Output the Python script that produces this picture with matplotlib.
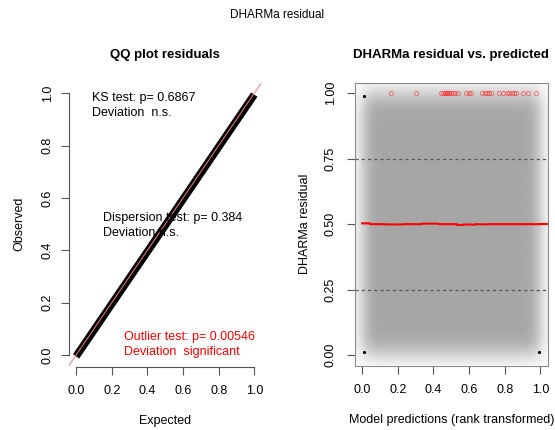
import math
import numpy as np
import matplotlib
matplotlib.use("Agg")
import matplotlib.pyplot as plt

plt.rcParams['font.family'] = ['Liberation Sans', 'DejaVu Sans']

# QQ plot (expected vs observed) - dense band of points along the diagonal
qq_expected = [0.0, 0.25, 0.5, 0.75, 1.0]
qq_observed = [-0.005, 0.245, 0.495, 0.745, 0.995]

ks_text = ["KS test: p= 0.6867", "Deviation  n.s."]
disp_text = ["Dispersion test: p= 0.384", "Deviation n.s."]
out_text = ["Outlier test: p= 0.00546", "Deviation  significant"]

# residual vs predicted: outliers at residual = 1
outlier_x = [0.16, 0.30, 0.445, 0.455, 0.465, 0.47, 0.475, 0.48, 0.49, 0.50, 0.51,
             0.52, 0.54, 0.585, 0.60, 0.61, 0.675, 0.69, 0.70, 0.71, 0.72, 0.77,
             0.79, 0.81, 0.825, 0.84, 0.85, 0.865, 0.90, 0.93, 0.975]
outlier_y = [1.0] * len(outlier_x)
corner_x = [0.01, 0.01, 0.99]
corner_y = [0.99, 0.01, 0.01]

# median quantile regression line
q50_x = [0.0, 0.044, 0.045, 0.128, 0.13, 0.23, 0.232, 0.334, 0.335, 0.427, 0.43,
         0.53, 0.532, 0.567, 0.57, 0.632, 0.635, 0.698, 0.70, 1.0]
q50_y = [0.503, 0.503, 0.500, 0.500, 0.499, 0.499, 0.500, 0.500, 0.502, 0.502, 0.500,
         0.500, 0.497, 0.497, 0.499, 0.498, 0.500, 0.499, 0.500, 0.500]

fig = plt.figure(figsize=(5.55, 4.30), dpi=100)
ax1 = fig.add_axes([0.1243, 0.150, 0.3467, 0.6574])
ax2 = fig.add_axes([0.6396, 0.150, 0.3470, 0.6574])

axcol = '#555555'
fs = 9

# ---- left: QQ plot
ax1.set_xlim(-0.04, 1.04)
ax1.set_ylim(-0.04, 1.04)
ax1.plot(qq_expected, qq_observed, color='black', lw=5.5, solid_capstyle='butt', zorder=2)
ax1.plot([-0.04, 1.04], [-0.04, 1.04], color='#f08080', lw=0.7, zorder=3)
for s in ['top', 'right']:
    ax1.spines[s].set_visible(False)
ax1.spines['left'].set_bounds(0, 1)
ax1.spines['bottom'].set_bounds(0, 1)
ax1.spines['bottom'].set_position(('outward', 1))
for s in ['left', 'bottom']:
    ax1.spines[s].set_color(axcol)
ticks = [0.0, 0.2, 0.4, 0.6, 0.8, 1.0]
ax1.set_xticks(ticks)
ax1.set_yticks(ticks)
ax1.set_xticklabels(['%.1f' % t for t in ticks])
ax1.set_yticklabels(['%.1f' % t for t in ticks], rotation=90, va='center')
ax1.tick_params(length=6, color=axcol, labelsize=fs, pad=7)
ax1.tick_params(axis='y', pad=5)
ax1.set_xlabel('Expected', fontsize=fs, labelpad=13)
ax1.set_ylabel('Observed', fontsize=fs, labelpad=12)
ax1.set_title('QQ plot residuals', fontsize=9.5, fontweight='bold', pad=18)

ax1.text(0.09, 0.982, ks_text[0], fontsize=fs, va='center')
ax1.text(0.09, 0.923, ks_text[1], fontsize=fs, va='center')
ax1.text(0.151, 0.525, disp_text[0], fontsize=fs, va='center')
ax1.text(0.151, 0.467, disp_text[1], fontsize=fs, va='center')
ax1.text(0.269, 0.070, out_text[0], fontsize=fs, va='center', color='red')
ax1.text(0.269, 0.011, out_text[1], fontsize=fs, va='center', color='red')

# ---- right: residual vs predicted
ax2.set_xlim(-0.04, 1.04)
ax2.set_ylim(-0.04, 1.04)
gx = np.linspace(-0.04, 1.04, 300)
erf = np.vectorize(math.erf)
fx = 0.5 * (erf(gx / 0.06) - erf((gx - 1) / 0.06))
fy = 0.5 * (erf(gx / 0.06) - erf((gx - 1) / 0.06))
X, Y = np.meshgrid(fx, fy)
dens = X * Y
ax2.imshow(1 - 0.35 * dens, cmap='gray', vmin=0, vmax=1, extent=(-0.04, 1.04, -0.04, 1.04),
           aspect='auto', origin='lower', zorder=0, interpolation='bilinear')
ax2.axhline(0.25, color='#555555', lw=0.9, ls=(0, (2.5, 2.5)), zorder=2)
ax2.axhline(0.75, color='#555555', lw=0.9, ls=(0, (2.5, 2.5)), zorder=2)
ax2.plot(q50_x, q50_y, color='red', lw=1.5, zorder=3)
ax2.plot([1.0, 1.04], [0.5, 0.5], color='red', lw=1.5, zorder=3)
ax2.plot(outlier_x, outlier_y, ls='none', marker='o', ms=3.0, mfc='none',
         mec=(1, 0.15, 0.15, 0.55), mew=0.7, zorder=4)
ax2.plot(corner_x, corner_y, ls='none', marker='.', ms=2.5, color='black', zorder=4)
for s in ax2.spines.values():
    s.set_color('#888888')
ax2.set_xticks(ticks)
ax2.set_xticklabels(['%.1f' % t for t in ticks])
yt = [0.0, 0.25, 0.5, 0.75, 1.0]
ax2.set_yticks(yt)
ax2.set_yticklabels(['%.2f' % t for t in yt], rotation=90, va='center')
ax2.tick_params(length=6, color=axcol, labelsize=fs, pad=7)
ax2.tick_params(axis='y', pad=7)
ax2.set_xlabel('Model predictions (rank transformed)', fontsize=fs, labelpad=13)
ax2.set_ylabel('DHARMa residual', fontsize=fs, labelpad=10)
ax2.set_title('DHARMa residual vs. predicted', fontsize=9.5, fontweight='bold', pad=18)

fig.text(0.5, 1 - 15 / 430, 'DHARMa residual', ha='center', va='center', fontsize=8.5)

fig.savefig('out.png', dpi=100)
